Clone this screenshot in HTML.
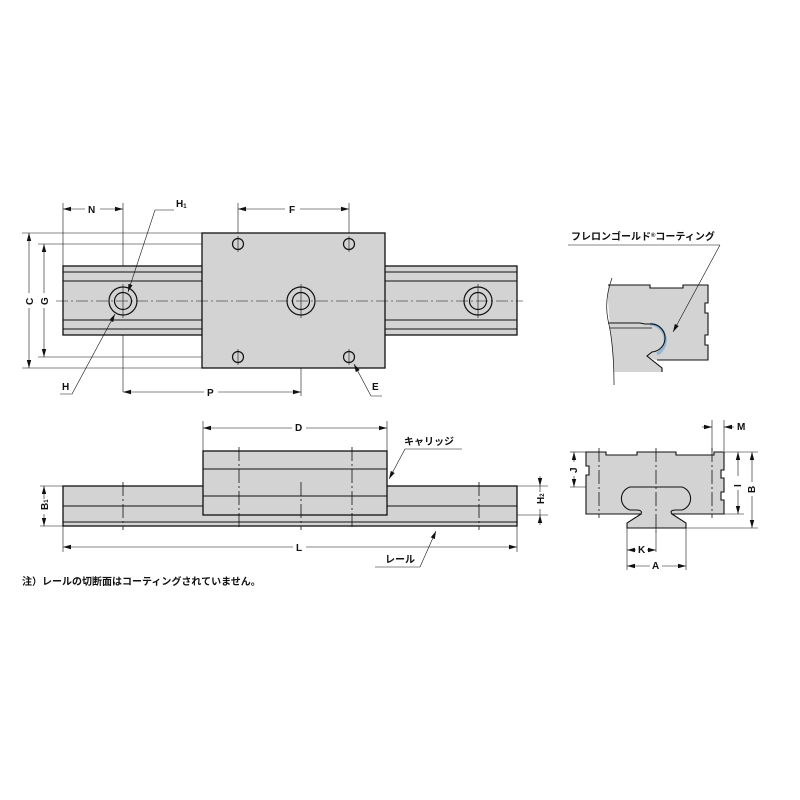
<!DOCTYPE html>
<html><head><meta charset="utf-8"><style>
html,body{margin:0;padding:0;background:#fff}
svg{display:block}
text{font-family:"Liberation Sans","Noto Sans CJK JP",sans-serif;font-size:10px;font-weight:bold;fill:#111}
</style></head><body>
<svg width="800" height="800" viewBox="0 0 800 800" xmlns="http://www.w3.org/2000/svg">
<defs>
<marker id="a" markerWidth="8" markerHeight="6" refX="8" refY="3" orient="auto-start-reverse" markerUnits="userSpaceOnUse"><path d="M0,0.8 L8,3 L0,5.2 Z" fill="#111"/></marker>
</defs>
<g stroke="#111" fill="none" stroke-width="0.6">
<line x1="63" y1="203" x2="63" y2="266"/>
<line x1="123" y1="203" x2="123" y2="392"/>
<line x1="238" y1="203" x2="238" y2="244"/>
<line x1="349" y1="203" x2="349" y2="244"/>
<line x1="22" y1="233" x2="202" y2="233"/>
<line x1="22" y1="368" x2="202" y2="368"/>
<line x1="38" y1="244" x2="232" y2="244"/>
<line x1="38" y1="357" x2="232" y2="357"/>
<line x1="301" y1="301" x2="301" y2="396"/>
</g>
<g stroke="#111" stroke-width="1.3" fill="#d3d3d3">
<rect x="63" y="266" width="454" height="69"/>
<rect x="202" y="233" width="183" height="135"/>
</g>
<g stroke="#111" stroke-width="1">
<line x1="63" y1="272" x2="202" y2="272"/><line x1="63" y1="281" x2="202" y2="281"/>
<line x1="63" y1="320" x2="202" y2="320"/><line x1="63" y1="329" x2="202" y2="329"/>
<line x1="385" y1="272" x2="517" y2="272"/><line x1="385" y1="281" x2="517" y2="281"/>
<line x1="385" y1="320" x2="517" y2="320"/><line x1="385" y1="329" x2="517" y2="329"/>
</g>
<line x1="56" y1="301" x2="523" y2="301" stroke="#111" stroke-width="0.6" stroke-dasharray="12,3,2,3"/>
<g stroke="#111" stroke-width="1.2" fill="none">
<circle cx="123" cy="301" r="14"/><circle cx="123" cy="301" r="8.5"/>
<circle cx="301" cy="301" r="14"/><circle cx="301" cy="301" r="8.5"/>
<circle cx="478" cy="301" r="14"/><circle cx="478" cy="301" r="8.5"/>
<circle cx="238" cy="244" r="5.5"/><circle cx="349" cy="244" r="5.5"/>
<circle cx="238" cy="357" r="5.5"/><circle cx="349" cy="357" r="5.5"/>
</g>
<g stroke="#111" stroke-width="0.6">
<line x1="123" y1="284" x2="123" y2="318"/><line x1="301" y1="284" x2="301" y2="318"/><line x1="478" y1="284" x2="478" y2="318"/>
<line x1="238" y1="236" x2="238" y2="252"/><line x1="349" y1="236" x2="349" y2="252"/>
<line x1="238" y1="349" x2="238" y2="365"/><line x1="349" y1="349" x2="349" y2="365"/>
</g>
<g stroke="#111" stroke-width="0.6">
<line x1="63" y1="209" x2="85" y2="209" marker-start="url(#a)"/><line x1="100" y1="209" x2="123" y2="209" marker-end="url(#a)"/>
<line x1="238" y1="209" x2="285" y2="209" marker-start="url(#a)"/><line x1="300" y1="209" x2="349" y2="209" marker-end="url(#a)"/>
<line x1="29" y1="233" x2="29" y2="293" marker-start="url(#a)"/><line x1="29" y1="308" x2="29" y2="368" marker-end="url(#a)"/>
<line x1="44" y1="244" x2="44" y2="293" marker-start="url(#a)"/><line x1="44" y1="308" x2="44" y2="357" marker-end="url(#a)"/>
<line x1="123" y1="392" x2="204" y2="392" marker-start="url(#a)"/><line x1="218" y1="392" x2="301" y2="392" marker-end="url(#a)"/>
<polyline points="174,210 155,210 128,292" fill="none" marker-end="url(#a)"/>
<polyline points="60,394 72,394 115,314" fill="none" marker-end="url(#a)"/>
<polyline points="382,396 371,396 354,364" fill="none" marker-end="url(#a)"/>
</g>
<text x="88" y="213">N</text>
<text x="289" y="213">F</text>
<text x="176" y="207">H<tspan font-size="6" dy="1">1</tspan></text>
<text x="25" y="305" transform="rotate(-90 29 301)">C</text>
<text x="40" y="305" transform="rotate(-90 44 301)">G</text>
<text x="62" y="390">H</text>
<text x="207" y="396">P</text>
<text x="372" y="390">E</text>

<g stroke="#111" stroke-width="0.6">
<line x1="203" y1="421" x2="203" y2="451"/><line x1="387" y1="421" x2="387" y2="451"/>
<line x1="63" y1="526" x2="63" y2="552"/><line x1="517" y1="526" x2="517" y2="552"/>
<line x1="40" y1="486" x2="63" y2="486"/><line x1="40" y1="526" x2="63" y2="526"/>
<line x1="517" y1="486" x2="548" y2="486"/><line x1="490" y1="515" x2="548" y2="515"/>
</g>
<g stroke="#111" stroke-width="1.3" fill="#d3d3d3">
<rect x="63" y="486" width="454" height="40"/>
<rect x="203" y="451" width="184" height="64"/>
</g>
<g stroke="#111" stroke-width="1.1">
<line x1="63" y1="506" x2="203" y2="506"/><line x1="387" y1="506" x2="517" y2="506"/>
<line x1="63" y1="522" x2="517" y2="522"/>
<line x1="203" y1="469" x2="387" y2="469"/><line x1="203" y1="496" x2="387" y2="496"/>
</g>
<g stroke="#111" stroke-width="0.8" stroke-dasharray="14,3,2,3">
<line x1="123" y1="482" x2="123" y2="530"/>
<line x1="239" y1="447" x2="239" y2="530"/>
<line x1="352" y1="447" x2="352" y2="530"/>
<line x1="479" y1="482" x2="479" y2="530"/>
<line x1="301" y1="482" x2="301" y2="530"/>
</g>
<g stroke="#111" stroke-width="0.6">
<line x1="203" y1="428" x2="292" y2="428" marker-start="url(#a)"/><line x1="306" y1="428" x2="387" y2="428" marker-end="url(#a)"/>
<line x1="63" y1="547" x2="293" y2="547" marker-start="url(#a)"/><line x1="306" y1="547" x2="517" y2="547" marker-end="url(#a)"/>
<line x1="44" y1="486" x2="44" y2="499" marker-start="url(#a)"/><line x1="44" y1="514" x2="44" y2="526" marker-end="url(#a)"/>
<line x1="540" y1="476" x2="540" y2="486" marker-end="url(#a)"/><line x1="540" y1="486" x2="540" y2="492"/>
<line x1="540" y1="509" x2="540" y2="515"/><line x1="540" y1="525" x2="540" y2="515" marker-end="url(#a)"/>
<polyline points="462,449 405,449 389,479" fill="none" marker-end="url(#a)"/>
<polyline points="375,567 420,567 436,531" fill="none" marker-end="url(#a)"/>
</g>
<text x="295" y="431">D</text>
<text x="296" y="551">L</text>
<text x="404" y="445">キャリッジ</text>
<text x="385" y="563">レール</text>
<text x="40" y="510" transform="rotate(-90 44 506)">B<tspan font-size="6">1</tspan></text>
<text x="536" y="504" transform="rotate(-90 540 500)">H<tspan font-size="6">2</tspan></text>
<text x="22" y="585">注）レールの切断面はコーティングされていません。</text>

<text x="571" y="240">フレロンゴールド<tspan font-size="6" dy="-3">®</tspan><tspan dy="3">コーティング</tspan></text>
<line x1="568" y1="245" x2="720" y2="245" stroke="#111" stroke-width="0.6"/>
<path d="M608,285 L650,285 L650,288 L683,288 L683,285 L708,285 L708,303 L705,303 L705,313 L708,313 L708,335 L705,335 L705,345 L708,345 L708,360 L655,360 L647,356 L662,368 L662,372 L614,372 Q610,330 608,300 Z" fill="#d3d3d3" stroke="none"/>
<path d="M608,285 L650,285 L650,288 L683,288 L683,285 L708,285 L708,303 L705,303 L705,313 L708,313 L708,335 L705,335 L705,345 L708,345 L708,360 L657,360" fill="none" stroke="#111" stroke-width="1.1"/>
<path d="M650,324 A16,16 0 0 1 657,354" fill="none" stroke="#8fb4d4" stroke-width="3"/>
<path d="M608,323 L640,323 L645,324 L650,324 A14,14 0 0 1 652,352 L647,356 L662,368 L662,372" fill="none" stroke="#111" stroke-width="1.1"/>
<path d="M610,328 L652,328" stroke="#111" stroke-width="0.7"/>
<path d="M612,278 Q604,300 608,320 Q614,345 614,385" fill="none" stroke="#111" stroke-width="0.7"/>
<line x1="720" y1="245" x2="673" y2="332" stroke="#111" stroke-width="0.6" marker-end="url(#a)"/>

<g stroke="#111" stroke-width="0.6">
<line x1="712" y1="420" x2="712" y2="451"/><line x1="724" y1="420" x2="724" y2="451"/>
<line x1="570" y1="452" x2="586" y2="452"/><line x1="570" y1="487" x2="630" y2="487"/>
<line x1="724" y1="452" x2="758" y2="452"/><line x1="724" y1="514" x2="744" y2="514"/>
<line x1="686" y1="528" x2="758" y2="528"/>
<line x1="627" y1="528" x2="627" y2="570"/><line x1="686" y1="528" x2="686" y2="570"/>
<line x1="656" y1="528" x2="656" y2="552"/>
</g>
<path d="M586,452 L606,452 L606,455 L637,455 L637,452 L676,452 L676,455 L714,455 L714,452 L724,452 L724,470 L721,470 L721,478 L724,478 L724,492 L721,492 L721,500 L724,500 L724,514 L672,514 L686,523 L686,528 L627,528 L627,523 L641,514 L586,514 L586,475 L589,475 L589,466 L586,466 Z" fill="#d3d3d3" stroke="#111" stroke-width="1.1"/>
<path d="M641,514 Q643,510 636,510 L630,510 A12,12 0 0 1 630,487 L682,487 A12,12 0 0 1 682,510 L676,510 Q669,510 672,514" fill="#d3d3d3" stroke="#111" stroke-width="1.1"/>
<g stroke="#111" stroke-width="0.8" stroke-dasharray="14,3,2,3">
<line x1="599" y1="448" x2="599" y2="518"/>
<line x1="712" y1="448" x2="712" y2="518"/>
<line x1="656" y1="448" x2="656" y2="532"/>
</g>
<g stroke="#111" stroke-width="0.6">
<line x1="702" y1="427" x2="712" y2="427" marker-end="url(#a)"/><line x1="734" y1="427" x2="724" y2="427" marker-end="url(#a)"/>
<line x1="574" y1="452" x2="574" y2="462" marker-start="url(#a)"/><line x1="574" y1="476" x2="574" y2="487" marker-end="url(#a)"/>
<line x1="738" y1="452" x2="738" y2="476" marker-start="url(#a)"/><line x1="738" y1="490" x2="738" y2="514" marker-end="url(#a)"/>
<line x1="752" y1="452" x2="752" y2="482" marker-start="url(#a)"/><line x1="752" y1="496" x2="752" y2="528" marker-end="url(#a)"/>
<line x1="627" y1="550" x2="636" y2="550" marker-start="url(#a)"/><line x1="647" y1="550" x2="656" y2="550" marker-end="url(#a)"/>
<line x1="627" y1="566" x2="650" y2="566" marker-start="url(#a)"/><line x1="662" y1="566" x2="686" y2="566" marker-end="url(#a)"/>
</g>
<text x="737" y="430">M</text>
<text x="570" y="472" transform="rotate(-90 574 469)">J</text>
<text x="734" y="486" transform="rotate(-90 738 483)">I</text>
<text x="748" y="492" transform="rotate(-90 752 489)">B</text>
<text x="638" y="553">K</text>
<text x="652" y="569">A</text>
</svg>
</body></html>
